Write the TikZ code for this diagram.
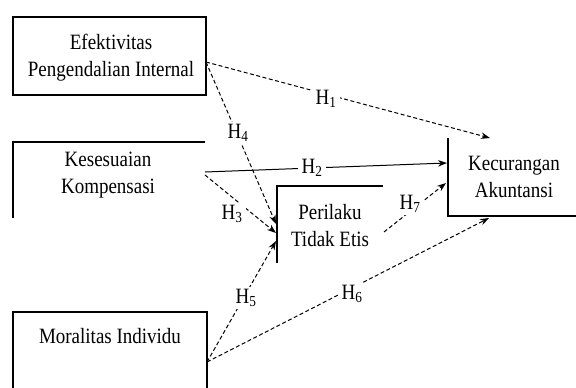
\documentclass[tikz,border=0pt]{standalone}
\usepackage{fontspec}
\setmainfont{Liberation Serif}
\usetikzlibrary{arrows.meta}
\newcommand{\vtxt}[1]{\scalebox{1}[1.15]{\fontsize{19}{23.5}\selectfont\begin{tabular}{@{}c@{}}#1\end{tabular}}}
\newcommand{\hl}[1]{\scalebox{1}[1.15]{\fontsize{19}{21}\selectfont H\textsubscript{#1}}}
\begin{document}
\begin{tikzpicture}[x=1pt,y=-1pt,line width=1pt,
  boxline/.style={draw=black,line width=1.2pt},
  txt/.style={align=center,inner sep=0pt},
  hlab/.style={fill=white,inner xsep=4pt,inner ysep=2pt},
  dline/.style={dash pattern=on 4pt off 2.5pt,-{Stealth[length=9pt,width=6.5pt]}},
  sline/.style={-{Stealth[length=9pt,width=6.5pt]}}]
\useasboundingbox (0,0) rectangle (576,388);
% boxes
\draw[boxline] (13,17) rectangle (206,95);
\draw[boxline] (205,142) -- (13,142) -- (13,218);
\draw[boxline] (383,186) -- (277,186) -- (277,263);
\draw[boxline] (448,138) -- (448,216) -- (576,216);
\draw[boxline] (13,388) -- (13,312) -- (207,312) -- (207,388);
% texts
\node[txt] (efk) at (111,58) {\vtxt{Efektivitas\\Pengendalian Internal}};
\node[txt] (kes) at (108,175) {\vtxt{Kesesuaian\\Kompensasi}};
\node[txt] (per) at (330,228) {\vtxt{Perilaku\\Tidak Etis}};
\node[txt] (kec) at (514,179) {\vtxt{Kecurangan\\Akuntansi}};
\node[txt] (mor) at (110,338) {\vtxt{Moralitas Individu}};
% anchor points
\coordinate (a1) at (206,62);
\coordinate (a2) at (205,172);
\coordinate (a3) at (205,175);
\coordinate (a5) at (207,362);
\coordinate (a7) at (384,232);
\coordinate (t1) at (490,138);
\coordinate (t2) at (447,163);
\coordinate (t7) at (446,183);
\coordinate (t6) at (489,218);
\coordinate (p4) at (276,224);
\coordinate (p3) at (276,233);
\coordinate (p5) at (276,241);
% connectors
\draw[dline] (a1) -- (t1);
\draw[sline] (a2) -- (t2);
\draw[dline] (a1) -- (p4);
\draw[dline] (a3) -- (p3);
\draw[dline] (a5) -- (p5);
\draw[dline] (a5) -- (t6);
\draw[dline] (a7) -- (t7);
% labels
\node[hlab] (h1) at (326,99) {\hl{1}};
\node[hlab] (h2) at (312,168) {\hl{2}};
\node[hlab] (h3) at (232,214) {\hl{3}};
\node[hlab] (h4) at (238,133) {\hl{4}};
\node[hlab] (h5) at (246,298) {\hl{5}};
\node[hlab] (h6) at (352,294) {\hl{6}};
\node[hlab] (h7) at (410,204) {\hl{7}};
\end{tikzpicture}
\end{document}
